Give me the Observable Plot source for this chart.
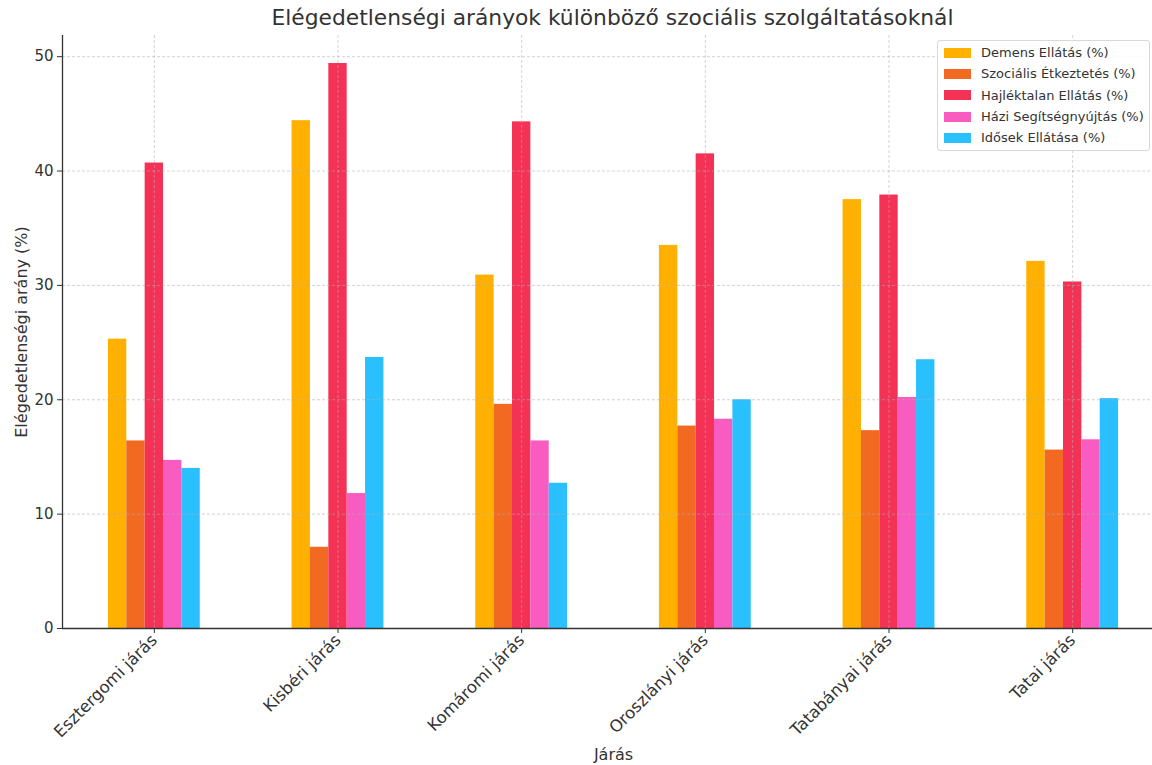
<!DOCTYPE html>
<html>
<head>
<meta charset="utf-8">
<script src="https://cdn.jsdelivr.net/npm/d3@7"></script>
<script src="https://cdn.jsdelivr.net/npm/@observablehq/plot@0.6"></script>
<style>
  html, body { margin: 0; padding: 0; background: white; overflow: hidden; }
  body { width: 1152px; height: 765px; position: relative; font-family: "DejaVu Sans", sans-serif; color: #333; }
  #title { height: 30px; line-height: 36px; font-size: 21.8px; text-align: center; padding-left: 73px; box-sizing: border-box; width: 1152px; white-space: nowrap; }
  #legend { position: absolute; left: 937px; top: 40px; width: 213px; height: 111px; box-sizing: border-box; border: 1px solid #d8d8d8; border-radius: 3px; background: rgba(255,255,255,0.85); padding: 1px 0 0 6px; }
  .item { height: 21.3px; display: flex; align-items: center; font-size: 13px; }
  .sw { width: 27px; height: 10px; margin-right: 10px; }
</style>
</head>
<body>
<div id="title">Elégedetlenségi arányok különböző szociális szolgáltatásoknál</div>
<div id="chart"></div>
<div id="legend"></div>
<script>
const districts = ["Esztergomi járás", "Kisbéri járás", "Komáromi járás", "Oroszlányi járás", "Tatabányai járás", "Tatai járás"];
const series = ["Demens Ellátás (%)", "Szociális Étkeztetés (%)", "Hajléktalan Ellátás (%)", "Házi Segítségnyújtás (%)", "Idősek Ellátása (%)"];
const demens = [25.3, 44.4, 30.9, 33.5, 37.5, 32.1];
const szocialis = [16.4, 7.1, 19.6, 17.7, 17.3, 15.6];
const hajlektalan = [40.7, 49.4, 44.3, 41.5, 37.9, 30.3];
const hazi = [14.7, 11.8, 16.4, 18.3, 20.2, 16.5];
const idosek = [14.0, 23.7, 12.7, 20.0, 23.5, 20.1];
const colors = ["#FFB000", "#F26A22", "#F43255", "#F95CC0", "#2ABFFD"];
const yTicks = [0, 10, 20, 30, 40, 50];

const values = [demens, szocialis, hajlektalan, hazi, idosek];
const rows = [];
series.forEach((s, j) => values[j].forEach((v, i) => rows.push({district: districts[i], i, j, series: s, value: v})));
const xTicks = districts.map((d, i) => i);
const barW = 0.1;

const gridStyle = {stroke: "#b0b0b0", strokeOpacity: 0.7, strokeWidth: 0.8, strokeDasharray: "3,2"};

const chart = Plot.plot({
  width: 1152,
  height: 735,
  marginLeft: 62,
  marginRight: -12,
  marginTop: 5,
  marginBottom: 137,
  style: {fontFamily: "DejaVu Sans", fontSize: "15px", color: "#333", background: "white", overflow: "visible"},
  x: {domain: [-0.5, 5.5]},
  y: {domain: [0, 51.85]},
  color: {domain: series, range: colors},
  marks: [
    Plot.rectY(rows, {
      x1: d => d.i - 2.5 * barW + d.j * barW,
      x2: d => d.i - 1.5 * barW + d.j * barW,
      y: "value",
      fill: "series"
    }),
    Plot.gridX(xTicks, gridStyle),
    Plot.gridY(yTicks.slice(1), gridStyle),
    Plot.axisX(xTicks, {
      tickFormat: i => districts[i],
      tickRotate: -45,
      tickSize: 5,
      tickPadding: 4,
      fontSize: 16.5,
      label: null
    }),
    Plot.axisX({
      ticks: [],
      tickSize: 0,
      label: "Járás",
      labelAnchor: "center",
      labelOffset: 131,
      labelArrow: "none",
      fontSize: 16
    }),
    Plot.axisY(yTicks, {
      tickSize: 5,
      tickPadding: 4,
      fontSize: 15,
      label: null
    }),
    Plot.axisY({
      ticks: [],
      tickSize: 0,
      label: "Elégedetlenségi arány (%)",
      labelAnchor: "center",
      labelOffset: 47,
      labelArrow: "none",
      fontSize: 16
    }),
    Plot.ruleY([0], {stroke: "#333", strokeWidth: 1.3}),
    Plot.ruleX([-0.5], {stroke: "#333", strokeWidth: 1.3})
  ]
});
document.getElementById("chart").appendChild(chart);

const legend = document.getElementById("legend");
series.forEach((s, j) => {
  const item = document.createElement("div");
  item.className = "item";
  const sw = document.createElement("div");
  sw.className = "sw";
  sw.style.background = colors[j];
  const label = document.createElement("span");
  label.textContent = s;
  item.appendChild(sw);
  item.appendChild(label);
  legend.appendChild(item);
});
</script>
</body>
</html>
